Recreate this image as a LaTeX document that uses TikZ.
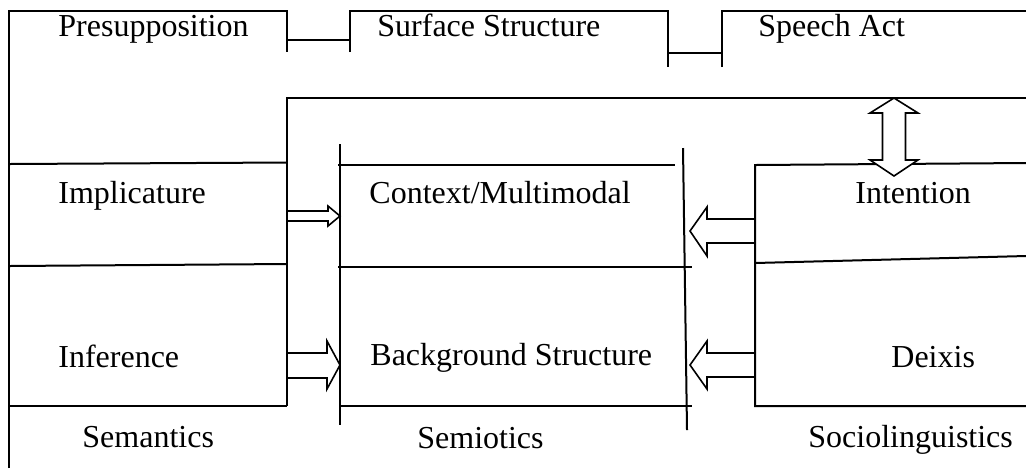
\documentclass[tikz,border=0pt]{standalone}
\usepackage{fontspec}
\setmainfont{Liberation Serif}
\usepackage{tikz}
\usetikzlibrary{positioning}

\tikzset{
  lbl/.style={inner sep=0pt, anchor=base west, font=\fontsize{16}{19}\selectfont},
  frame/.style={line width=1pt},
  blockarr/.style={line width=0.8pt, fill=white, line join=miter}
}

\begin{document}
\begin{tikzpicture}[x=0.5pt, y=-0.5pt]
\useasboundingbox (0,0) rectangle (1026,468);

% side block arrows (under the frame lines)
\draw[blockarr] (287,211) -- (328,211) -- (328,206) -- (340,216) -- (328,226) -- (328,221) -- (287,221);
\draw[blockarr] (287,353) -- (327,353) -- (327,341) -- (340,365) -- (327,389) -- (327,378) -- (287,378);
\draw[blockarr] (755,219) -- (707,219) -- (707,207) -- (690,231) -- (707,256) -- (707,243) -- (755,243);
\draw[blockarr] (755,353) -- (707,353) -- (707,341) -- (690,365) -- (707,389) -- (707,377) -- (755,377);

% top row
\draw[frame] (9,468) -- (9,11) -- (287,11) -- (287,52);
\draw[frame] (287,40) -- (350,40);
\draw[frame] (350,52) -- (350,11) -- (668,11) -- (668,67);
\draw[frame] (668,53) -- (722,53);
\draw[frame] (722,67) -- (722,11) -- (1026,11);

% big frame
\draw[frame] (287,406) -- (287,98) -- (1026,98);

% semantics column
\draw[frame] (9,164) -- (287,162.5);
\draw[frame] (9,266) -- (287,264);
\draw[frame] (9,406) -- (287,406);

% semiotics column
\draw[frame] (340,144) -- (340,425);
\draw[frame] (683,148) -- (687,430);
\draw[frame] (338,165) -- (675,165);
\draw[frame] (338,267) -- (692,267);
\draw[frame] (340,406) -- (692,406);

% sociolinguistics column
\draw[frame] (1026,163) -- (755,165) -- (755,406) -- (1026,406);
\draw[frame] (755,263) -- (1026,256);

% labels
\node[lbl] (presup) at (58,36) {Presupposition};
\node[lbl] (surface) at (377,36) {Surface Structure};
\node[lbl] (speech) at (758,36) {Speech Act};
\node[lbl] (implic) at (58,203) {Implicature};
\node[lbl] (infer) at (58,367) {Inference};
\node[lbl] (semantics) at (82,447) {Semantics};
\node[lbl] (context) at (369,203) {Context/Multimodal};
\node[lbl] (backgr) at (370,365) {Background Structure};
\node[lbl] (semiotics) at (417,448) {Semiotics};
\node[lbl] (intention) at (855,203) {Intention};
\node[lbl] (deixis) at (891,367) {Deixis};
\node[lbl] (socio) at (808,447) {Sociolinguistics};

% up-down block arrow (over the frame lines)
\draw[blockarr] (894,98) -- (918,113) -- (905.5,113) -- (905.5,160) -- (918,160) -- (894,176)
  -- (870,160) -- (882.5,160) -- (882.5,113) -- (870,113) -- cycle;
\end{tikzpicture}
\end{document}
